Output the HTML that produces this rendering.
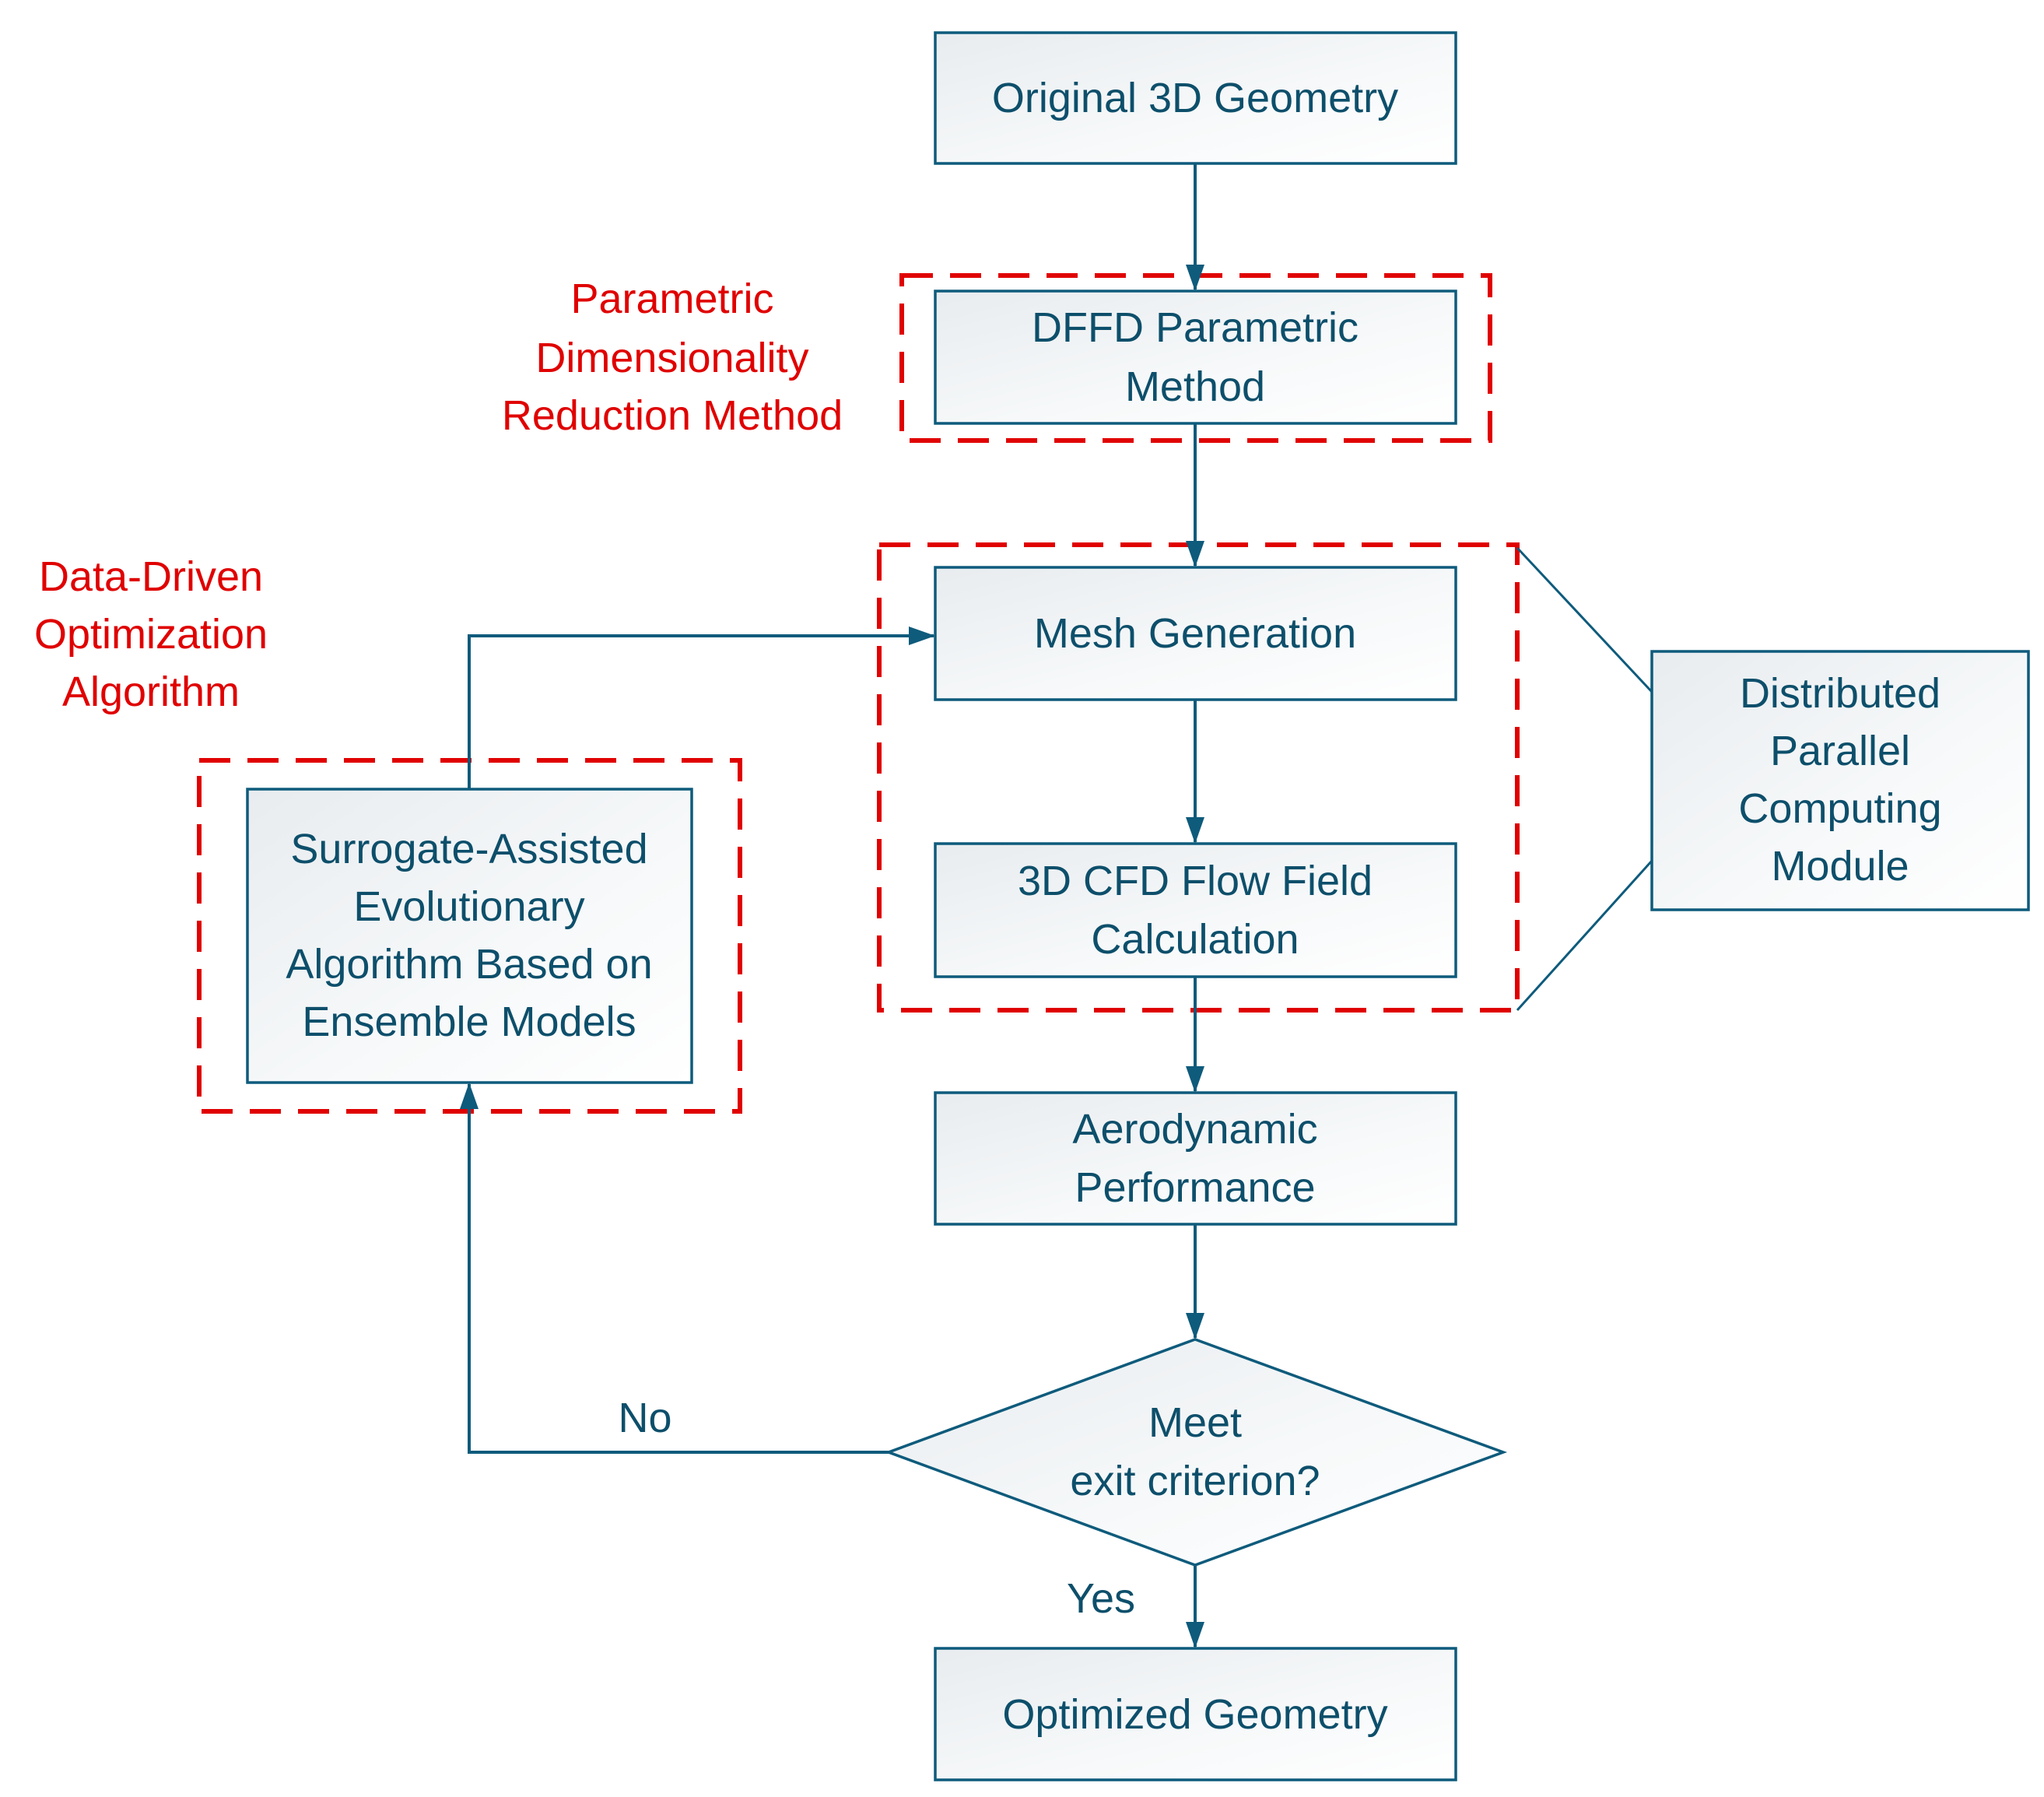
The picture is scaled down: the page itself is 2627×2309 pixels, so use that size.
<!DOCTYPE html>
<html><head><meta charset="utf-8"><style>
body{margin:0;background:#fff}
svg text{font-family:"Liberation Sans",sans-serif;font-size:54px;text-anchor:middle;dominant-baseline:central}
</style></head><body>
<svg width="2627" height="2304" viewBox="0 0 2627 2304" xmlns="http://www.w3.org/2000/svg">
<defs>
<linearGradient id="g" x1="0" y1="0" x2="1" y2="1"><stop offset="0" stop-color="#e8ecef"/><stop offset="0.6" stop-color="#f7f9fa"/><stop offset="1" stop-color="#ffffff"/></linearGradient>
<marker id="b" markerWidth="34" markerHeight="34" refX="32" refY="17" orient="auto" markerUnits="userSpaceOnUse"><path d="M0,5 L34,17 L0,29z" fill="#0e5b7c"/></marker>
</defs>
<g fill="none" stroke="#e00000" stroke-width="6" stroke-dasharray="40,22">
<rect x="1159" y="354" width="756" height="212"/>
<rect x="1130" y="700" width="820" height="598"/>
<rect x="256" y="977" width="695" height="451"/>
</g>
<g stroke="#0e5b7c" stroke-width="4" fill="none">
<line x1="1536" y1="210" x2="1536" y2="372" marker-end="url(#b)"/>
<line x1="1536" y1="544" x2="1536" y2="727" marker-end="url(#b)"/>
<line x1="1536" y1="899" x2="1536" y2="1082" marker-end="url(#b)"/>
<line x1="1536" y1="1255" x2="1536" y2="1402" marker-end="url(#b)"/>
<line x1="1536" y1="1573" x2="1536" y2="1719" marker-end="url(#b)"/>
<line x1="1536" y1="2011" x2="1536" y2="2116" marker-end="url(#b)"/>
<polyline points="603,1014 603,817 1200,817" marker-end="url(#b)"/>
<polyline points="1142,1866 603,1866 603,1393" marker-end="url(#b)"/>
<line x1="1950" y1="704" x2="2123" y2="889" stroke-width="3"/>
<line x1="1950" y1="1298" x2="2123" y2="1106" stroke-width="3"/>
</g>
<g fill="url(#g)" stroke="#0e5b7c" stroke-width="3.5">
<rect x="1202" y="42" width="669" height="168"/>
<rect x="1202" y="374" width="669" height="170"/>
<rect x="1202" y="729" width="669" height="170"/>
<rect x="1202" y="1084" width="669" height="171"/>
<rect x="1202" y="1404" width="669" height="169"/>
<rect x="1202" y="2118" width="669" height="169"/>
<rect x="318" y="1014" width="571" height="377"/>
<rect x="2123" y="837" width="484" height="332"/>
<polygon points="1142,1866 1536,1721 1932,1866 1536,2011"/>
</g>
<g fill="#0d4f6b">
<text x="1536" y="126">Original 3D Geometry</text>
<text x="1536" y="421">DFFD Parametric</text><text x="1536" y="497">Method</text>
<text x="1536" y="814">Mesh Generation</text>
<text x="1536" y="1132">3D CFD Flow Field</text><text x="1536" y="1207">Calculation</text>
<text x="1536" y="1451">Aerodynamic</text><text x="1536" y="1526">Performance</text>
<text x="1536" y="1828">Meet</text><text x="1536" y="1903">exit criterion?</text>
<text x="1536" y="2203">Optimized Geometry</text>
<text x="603" y="1091">Surrogate-Assisted</text><text x="603" y="1165">Evolutionary</text><text x="603" y="1239">Algorithm Based on</text><text x="603" y="1313">Ensemble Models</text>
<text x="2365" y="891">Distributed</text><text x="2365" y="965">Parallel</text><text x="2365" y="1039">Computing</text><text x="2365" y="1113">Module</text>
<text x="829" y="1822">No</text>
<text x="1415" y="2054">Yes</text>
</g>
<g fill="#e00000">
<text x="864" y="384">Parametric</text><text x="864" y="460">Dimensionality</text><text x="864" y="534">Reduction Method</text>
<text x="194" y="741">Data-Driven</text><text x="194" y="815">Optimization</text><text x="194" y="889">Algorithm</text>
</g>
</svg>
</body></html>
